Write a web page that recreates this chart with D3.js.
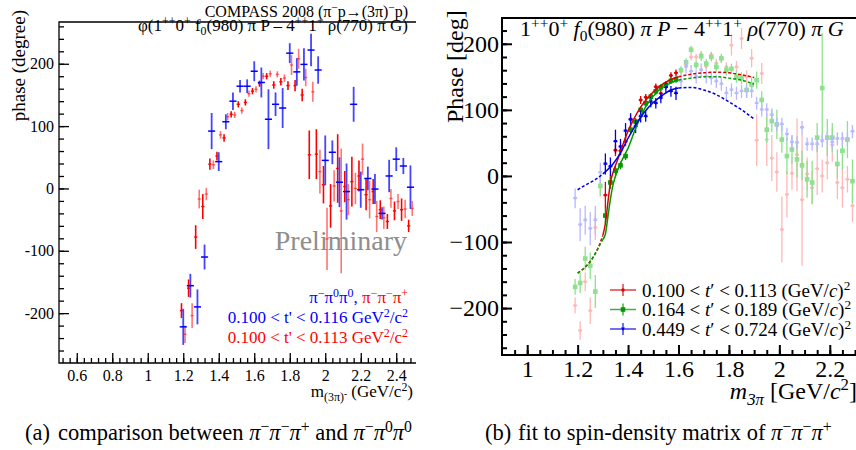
<!DOCTYPE html>
<html>
<head>
<meta charset="utf-8">
<script src="https://cdn.jsdelivr.net/npm/d3@7"></script>
<style>
  body { margin: 0; background: #fff; }
  svg { display: block; }
</style>
</head>
<body>
<div id="chart"></div>
<script>
const serif = '"Liberation Serif", "Times New Roman", Times, serif';

// ---- left panel: pi- pi- pi+ (red, 20 MeV bins) and pi- pi0 pi0 (blue, 40 MeV bins)
const redMass = [1.19,1.21,1.23,1.25,1.27,1.29,1.31,1.33,1.35,1.37,
  1.39,1.41,1.43,1.45,1.47,1.49,1.51,1.53,1.55,1.57,
  1.59,1.61,1.63,1.65,1.67,1.69,1.71,1.73,1.75,1.77,
  1.79,1.81,1.83,1.85,1.87,1.89,1.91,1.93,1.95,1.97,
  1.99,2.01,2.03,2.05,2.07,2.09,2.11,2.13,2.15,2.17,
  2.19,2.21,2.23,2.25,2.27,2.29,2.31,2.33,2.35,2.37,
  2.39,2.41,2.43,2.45,2.47,2.49];
const redPhase = [-196,-234,-160,-204,-78,-17,-29,-9,39,38,
  52,86,81,115,119,118,135,125,138,152,
  156,159,168,180,180,184,166,183,171,177,
  165,198,165,208,150,178,54,155,55,27,
  6,-81,-28,4,32,-36,3,-18,11,0,
  20,47,-10,-18,-5,-45,-34,-47,-53,-16,
  -36,-21,-34,-33,-60,-32];
const redErr = [12,14,14,20,19,15,20,10,9,7,
  7,6,6,6,5,5,5,5,5,5,
  5,5,5,5,5,5,6,5,6,6,
  7,16,9,16,10,14,39,16,40,35,
  30,50,35,25,55,100,25,25,40,25,
  25,25,25,30,20,25,15,18,12,15,
  15,12,18,15,10,12];

const blueMass = [1.20,1.24,1.28,1.32,1.36,1.40,1.44,1.48,1.52,1.56,1.60,
  1.64,1.68,1.72,1.76,1.80,1.84,1.88,1.92,1.96,2.00,2.04,
  2.08,2.12,2.16,2.20,2.24,2.28,2.32,2.36,2.40,2.44,2.48];
const bluePhase = [-222,-156,-190,-110,92,43,107,140,164,164,188,
  170,111,135,129,217,187,199,222,190,45,58,
  10,-5,135,-2,16,-1,-40,20,47,36,2];
const blueErr = [29,19,28,20,29,15,12,14,10,11,16,
  24,48,19,32,16,22,26,26,22,40,19,
  40,45,28,29,19,24,10,26,19,13,35];

// ---- right panel: three t' bins of pi- pi- pi+, fit range 1.30-1.60
const binMass = [1.19,1.21,1.23,1.25,1.27,1.29,1.31,1.33,1.35,1.37,
  1.39,1.41,1.43,1.45,1.47,1.49,1.51,1.53,1.55,1.57,
  1.59,1.61,1.63,1.65,1.67,1.69,1.71,1.73,1.75,1.77,
  1.79,1.81,1.83,1.85,1.87,1.89,1.91,1.93,1.95,1.97,
  1.99,2.01,2.03,2.05,2.07,2.09,2.11,2.13,2.15,2.17,
  2.19,2.21,2.23,2.25,2.27,2.29];
const greenPhase = [-168,-162,-125,-136,-175,-15,-60,-10,8,16,
  30,70,82,100,110,120,128,134,138,144,
  146,160,172,191,168,181,170,180,165,178,
  160,162,150,148,130,138,145,115,70,83,
  78,55,30,40,25,16,-5,-10,58,133,
  58,58,18,38,55,-8];
const greenErr = [12,15,18,20,25,15,12,9,7,6,
  6,6,5,5,5,5,5,5,5,5,
  5,6,6,6,7,7,7,7,7,7,
  8,8,9,9,11,11,13,13,20,17,
  22,20,28,22,28,22,28,33,22,83,
  28,22,22,28,28,33];
const highPhase = [-34,-74,-67,-80,-67,5,18,14,52,44,
  68,85,75,90,90,112,110,118,134,128,
  125,143,165,158,150,160,150,148,143,139,
  125,130,125,128,128,128,110,100,100,92,
  78,78,63,51,50,73,48,48,48,53,
  56,51,56,56,56,67];
const highErr = [15,25,22,25,22,15,16,14,18,12,
  12,10,10,9,8,8,8,8,8,8,
  10,10,10,10,10,10,10,10,10,10,
  10,10,10,10,10,10,10,10,10,10,
  10,10,10,10,10,10,10,10,10,10,
  10,10,10,10,10,10];
const fitRange = [1.30, 1.60];

// fit curves
const redCurveMass = [1.20,1.23,1.26,1.28,1.30,1.31,1.32,1.33,1.34,1.36,1.38,1.40,1.42,1.45,1.48,1.52,1.56,1.60,1.65,1.70,1.75,1.80,1.85,1.90];
const redCurvePhase = [-147,-138,-124,-110,-90,-72,-40,-10,5,26,48,68,84,104,119,134,144,150,154,156,157,156,153,149];
const greenCurveMass = [1.20,1.23,1.26,1.28,1.30,1.31,1.32,1.33,1.34,1.36,1.38,1.40,1.43,1.47,1.52,1.56,1.60,1.65,1.70,1.75,1.80,1.85,1.90];
const greenCurvePhase = [-147,-138,-124,-110,-96,-88,-62,-35,-14,10,27,42,72,105,129,139,145,148,150,150,148,145,139];
const blueCurveMass = [1.20,1.23,1.26,1.28,1.30,1.34,1.37,1.40,1.43,1.46,1.50,1.54,1.57,1.60,1.65,1.70,1.75,1.80,1.85,1.90];
const blueCurvePhase = [-21,-14,-8,-3,3,18,35,57,77,94,111,123,130,133,134,130,123,112,100,86];

// ticks
const leftXTicks = [0.6,0.8,1,1.2,1.4,1.6,1.8,2,2.2,2.4];
const leftYTicks = [-200,-100,0,100,200];
const rightXTicks = [1,1.2,1.4,1.6,1.8,2,2.2];
const rightYTicks = [-200,-100,0,100,200];

const legendLabels = ["0.100", "0.164", "0.449"];
const legendUpper = ["0.113", "0.189", "0.724"];

const W = 856, H = 450;
const svg = d3.select("#chart").append("svg")
  .attr("width", W).attr("height", H)
  .attr("font-family", serif);

// text with super/subscripts; parts are [text, mode, colour]
function rich(sel, parts, fs) {
  let shift = 0;
  parts.forEach((p) => {
    const [str, mode = "", color] = typeof p === "string" ? [p] : p;
    let target = 0, size = fs;
    if (mode.includes("^")) { target = -0.36 * fs; size = 0.7 * fs; }
    if (mode.includes("_")) { target = 0.24 * fs; size = 0.7 * fs; }
    if (mode.includes("s")) { target = 0.02 * fs; size = 0.55 * fs; }
    const ts = sel.append("tspan")
      .attr("dy", (target - shift).toFixed(2))
      .attr("font-size", size)
      .text(str);
    if (mode.includes("i")) ts.attr("font-style", "italic");
    if (color) ts.attr("fill", color);
    shift = target;
  });
  return sel;
}

function addText(x, y, anchor, fs, parts, fill = "#000") {
  const t = svg.append("text").attr("x", x).attr("y", y)
    .attr("text-anchor", anchor).attr("font-size", fs).attr("fill", fill);
  return rich(t, parts, fs);
}

function drawAxes(x, y, o) {
  const g = svg.append("g");
  const [yb, yt] = y.range();
  const xl = x.range()[0];
  g.append("g").attr("transform", `translate(0,${yb})`)
    .call(d3.axisBottom(x).tickValues(o.xMinor).tickSize(-5).tickFormat(""));
  g.append("g").attr("transform", `translate(0,${yb})`)
    .call(d3.axisBottom(x).tickValues(o.xMajor).tickSize(-10).tickPadding(o.xPad)
      .tickFormat((d) => String(+d.toFixed(2))));
  g.append("g").attr("transform", `translate(${xl},0)`)
    .call(d3.axisLeft(y).tickValues(o.yMinor).tickSize(-5).tickFormat(""));
  g.append("g").attr("transform", `translate(${xl},0)`)
    .call(d3.axisLeft(y).tickValues(o.yMajor).tickSize(-10).tickPadding(o.yPad).tickFormat(o.yFmt));
  g.selectAll(".domain").remove();
  g.selectAll(".tick text").attr("font-family", serif).attr("font-size", o.fs);
  g.selectAll(".tick line").attr("stroke-width", o.lw);
  g.append("path")
    .attr("d", `M${o.right},${yt}H${xl}V${yb}H${o.right}`)
    .attr("fill", "none").attr("stroke", "#000").attr("stroke-width", o.lw);
}

// ================= left panel =================
const xL = d3.scaleLinear().domain([0.5, 2.5]).range([59, 414]);
const yL = d3.scaleLinear().domain([-280, 267]).range([363, 22]);

svg.append("clipPath").attr("id", "clipL").append("rect")
  .attr("x", 59).attr("y", 22).attr("width", 357).attr("height", 341);

drawAxes(xL, yL, {
  xMajor: leftXTicks, xMinor: d3.range(13, 63).map((i) => i * 0.04),
  yMajor: leftYTicks, yMinor: d3.range(-13, 14).map((i) => i * 20),
  yFmt: (d) => String(d), fs: 16, xPad: 7, yPad: 5, lw: 1.3, right: 416,
});

const gL = svg.append("g").attr("clip-path", "url(#clipL)");
const redData = redMass.map((m, i) => ({ m, p: redPhase[i], e: redErr[i], i }));
const blueData = blueMass.map((m, i) => ({ m, p: bluePhase[i], e: blueErr[i], i }));

gL.append("g").selectAll("g").data(redData).join("g")
  .attr("stroke", "#ff0000")
  .attr("stroke-opacity", (d) => (d.i % 2 ? 0.55 : 1))
  .call((g) => g.append("line")
    .attr("x1", (d) => xL(d.m)).attr("x2", (d) => xL(d.m))
    .attr("y1", (d) => yL(d.p - d.e)).attr("y2", (d) => yL(d.p + d.e))
    .attr("stroke-width", 1.6))
  .call((g) => g.append("line")
    .attr("x1", (d) => xL(d.m - 0.009)).attr("x2", (d) => xL(d.m + 0.009))
    .attr("y1", (d) => yL(d.p)).attr("y2", (d) => yL(d.p))
    .attr("stroke-width", 1.4));

gL.append("g").selectAll("g").data(blueData).join("g")
  .call((g) => g.append("line")
    .attr("x1", (d) => xL(d.m)).attr("x2", (d) => xL(d.m))
    .attr("y1", (d) => yL(d.p - d.e)).attr("y2", (d) => yL(d.p + d.e))
    .attr("stroke", "#4545ff").attr("stroke-width", 1.8))
  .call((g) => g.append("line")
    .attr("x1", (d) => xL(d.m - 0.02)).attr("x2", (d) => xL(d.m + 0.02))
    .attr("y1", (d) => yL(d.p)).attr("y2", (d) => yL(d.p))
    .attr("stroke", "#0000ff").attr("stroke-width", 1.5));

addText(408, 16.5, "end", 16, ["COMPASS 2008 (π", ["−", "^"], "p→(3π)", ["−", "^"], "p)"]);
addText(408, 31, "end", 17, ["φ(1", ["++", "^"], "0", ["+", "^"], " f", ["0", "_"],
  "(980) π P – 4", ["++", "^"], "1", ["+", "^"], " ρ(770) π G)"]);
addText(407, 250, "end", 28, ["Preliminary"], "#8e8e8e");

addText(408, 303, "end", 17, [["π", "", "#0000ff"], ["−", "^", "#0000ff"], ["π", "", "#0000ff"],
  ["0", "^", "#0000ff"], ["π", "", "#0000ff"], ["0", "^", "#0000ff"], [", ", "", "#0000ff"],
  ["π", "", "#ff0000"], ["−", "^", "#ff0000"], ["π", "", "#ff0000"], ["−", "^", "#ff0000"],
  ["π", "", "#ff0000"], ["+", "^", "#ff0000"]]);
addText(408, 323, "end", 17, ["0.100 < t' < 0.116 GeV", ["2", "^"], "/c", ["2", "^"]], "#0000ff");
addText(408, 343, "end", 17, ["0.100 < t' < 0.113 GeV", ["2", "^"], "/c", ["2", "^"]], "#ff0000");

addText(413, 397, "end", 17, ["m", ["(3π)", "_"], ["-", "s"], " (GeV/c", ["2", "^"], ")"]);

svg.append("text")
  .attr("transform", "translate(25,10) rotate(-90)")
  .attr("text-anchor", "end").attr("font-size", 19)
  .text("phase (degree)");

// ================= right panel =================
const xR = d3.scaleLinear().domain([0.9, 2.3]).range([502, 855]);
const yR = d3.scaleLinear().domain([-271, 239]).range([355, 18]);

svg.append("clipPath").attr("id", "clipR").append("rect")
  .attr("x", 502).attr("y", 18).attr("width", 354).attr("height", 337);

drawAxes(xR, yR, {
  xMajor: rightXTicks, xMinor: d3.range(19, 47).map((i) => i * 0.05),
  yMajor: rightYTicks, yMinor: d3.range(-13, 12).map((i) => i * 20),
  yFmt: (d) => (d < 0 ? "−" + -d : String(d)), fs: 24, xPad: 5, yPad: 3, lw: 2, right: 858,
});

const inFit = (m) => m >= fitRange[0] && m <= fitRange[1];
const series = [
  { mass: redMass, phase: redPhase, err: redErr, dark: "#dd0000", light: "#ffb8b8", marker: "dot",
    cm: redCurveMass, cp: redCurvePhase },
  { mass: binMass, phase: greenPhase, err: greenErr, dark: "#009a00", light: "#8fe08f", marker: "square",
    cm: greenCurveMass, cp: greenCurvePhase },
  { mass: binMass, phase: highPhase, err: highErr, dark: "#0000e6", light: "#b8b8ff", marker: "tri",
    cm: blueCurveMass, cp: blueCurvePhase },
];

function marker(g, type, color) {
  if (type === "dot") g.append("circle").attr("r", 1.7).attr("fill", color);
  else if (type === "square") g.append("rect").attr("x", -2.3).attr("y", -2.3)
    .attr("width", 4.6).attr("height", 4.6).attr("fill", color);
  else g.append("path").attr("d", "M-2,-1.6L2,-1.6L0,2Z").attr("fill", color);
}

const gR = svg.append("g").attr("clip-path", "url(#clipR)");

function drawPointsR(s, dark) {
  const data = s.mass.map((m, i) => ({ m, p: s.phase[i], e: s.err[i] }))
    .filter((d) => inFit(d.m) === dark && d.m <= 2.3);
  const color = dark ? s.dark : s.light;
  gR.append("g").selectAll("g").data(data).join("g")
    .attr("stroke", color).attr("stroke-width", 1.3)
    .call((g) => g.append("line")
      .attr("x1", (d) => xR(d.m)).attr("x2", (d) => xR(d.m))
      .attr("y1", (d) => yR(d.p - d.e)).attr("y2", (d) => yR(d.p + d.e)))
    .call((g) => g.append("line")
      .attr("x1", (d) => xR(d.m - 0.008)).attr("x2", (d) => xR(d.m + 0.008))
      .attr("y1", (d) => yR(d.p)).attr("y2", (d) => yR(d.p)))
    .append("g")
    .attr("transform", (d) => `translate(${xR(d.m)},${yR(d.p)})`)
    .attr("stroke", "none")
    .each(function () { marker(d3.select(this), s.marker, color); });
}

series.forEach((s) => drawPointsR(s, false));
series.forEach((s) => drawPointsR(s, true));

const curve = d3.line().x((d) => xR(d[0])).y((d) => yR(d[1])).curve(d3.curveMonotoneX);
series.forEach((s) => {
  const pts = s.cm.map((m, i) => [m, s.cp[i]]);
  const low = pts.filter((d) => d[0] <= fitRange[0]);
  const mid = pts.filter((d) => inFit(d[0]));
  const high = pts.filter((d) => d[0] >= fitRange[1]);
  [[low, "3,2"], [mid, null], [high, "3,2"]].forEach(([seg, dash]) => {
    gR.append("path").attr("d", curve(seg))
      .attr("fill", "none").attr("stroke", s.dark).attr("stroke-width", 1.5)
      .attr("stroke-dasharray", dash);
  });
});

// legend
series.forEach((s, i) => {
  const cy = 290 + i * 19.5;
  const g = svg.append("g").attr("transform", `translate(623,${cy})`);
  g.append("line").attr("x1", -13).attr("x2", 13)
    .attr("stroke", s.dark).attr("stroke-opacity", 0.75).attr("stroke-width", 1.5);
  g.append("line").attr("y1", -6).attr("y2", 6)
    .attr("stroke", s.dark).attr("stroke-opacity", 0.75).attr("stroke-width", 1.5);
  marker(g, s.marker, s.dark);
  addText(642, cy + 6.5, "start", 19,
    [legendLabels[i] + " < ", ["t", "i"], "′ < " + legendUpper[i] + " (GeV/", ["c", "i"], ")", ["2", "^"]]);
});

addText(520, 36, "start", 22, ["1", ["++", "^"], "0", ["+", "^"], " ", ["f", "i"], ["0", "_"],
  "(980) ", ["π P", "i"], " − 4", ["++", "^"], "1", ["+", "^"], " ", ["ρ", "i"], "(770) ", ["π G", "i"]]);

addText(857, 399, "end", 24, [["m", "i"], ["3π", "_i"], " [GeV/", ["c", "i"], ["2", "^"], "]"]);

svg.append("text")
  .attr("transform", "translate(463,123) rotate(-90)")
  .attr("text-anchor", "start").attr("font-size", 24)
  .text("Phase [deg]");

// ================= captions =================
addText(25, 440, "start", 22.5, ["(a)"]);
addText(58, 440, "start", 22.5, ["comparison between ", ["π", "i"], ["−", "^"], ["π", "i"], ["−", "^"],
  ["π", "i"], ["+", "^"], " and ", ["π", "i"], ["−", "^"], ["π", "i"], ["0", "^"], ["π", "i"], ["0", "^"]]);
addText(485, 440, "start", 22.5, ["(b)"]);
addText(518, 440, "start", 22.5, ["fit to spin-density matrix of ", ["π", "i"], ["−", "^"], ["π", "i"], ["−", "^"],
  ["π", "i"], ["+", "^"]]);

svg.selectAll("text").attr("font-family", serif);
</script>
</body>
</html>
